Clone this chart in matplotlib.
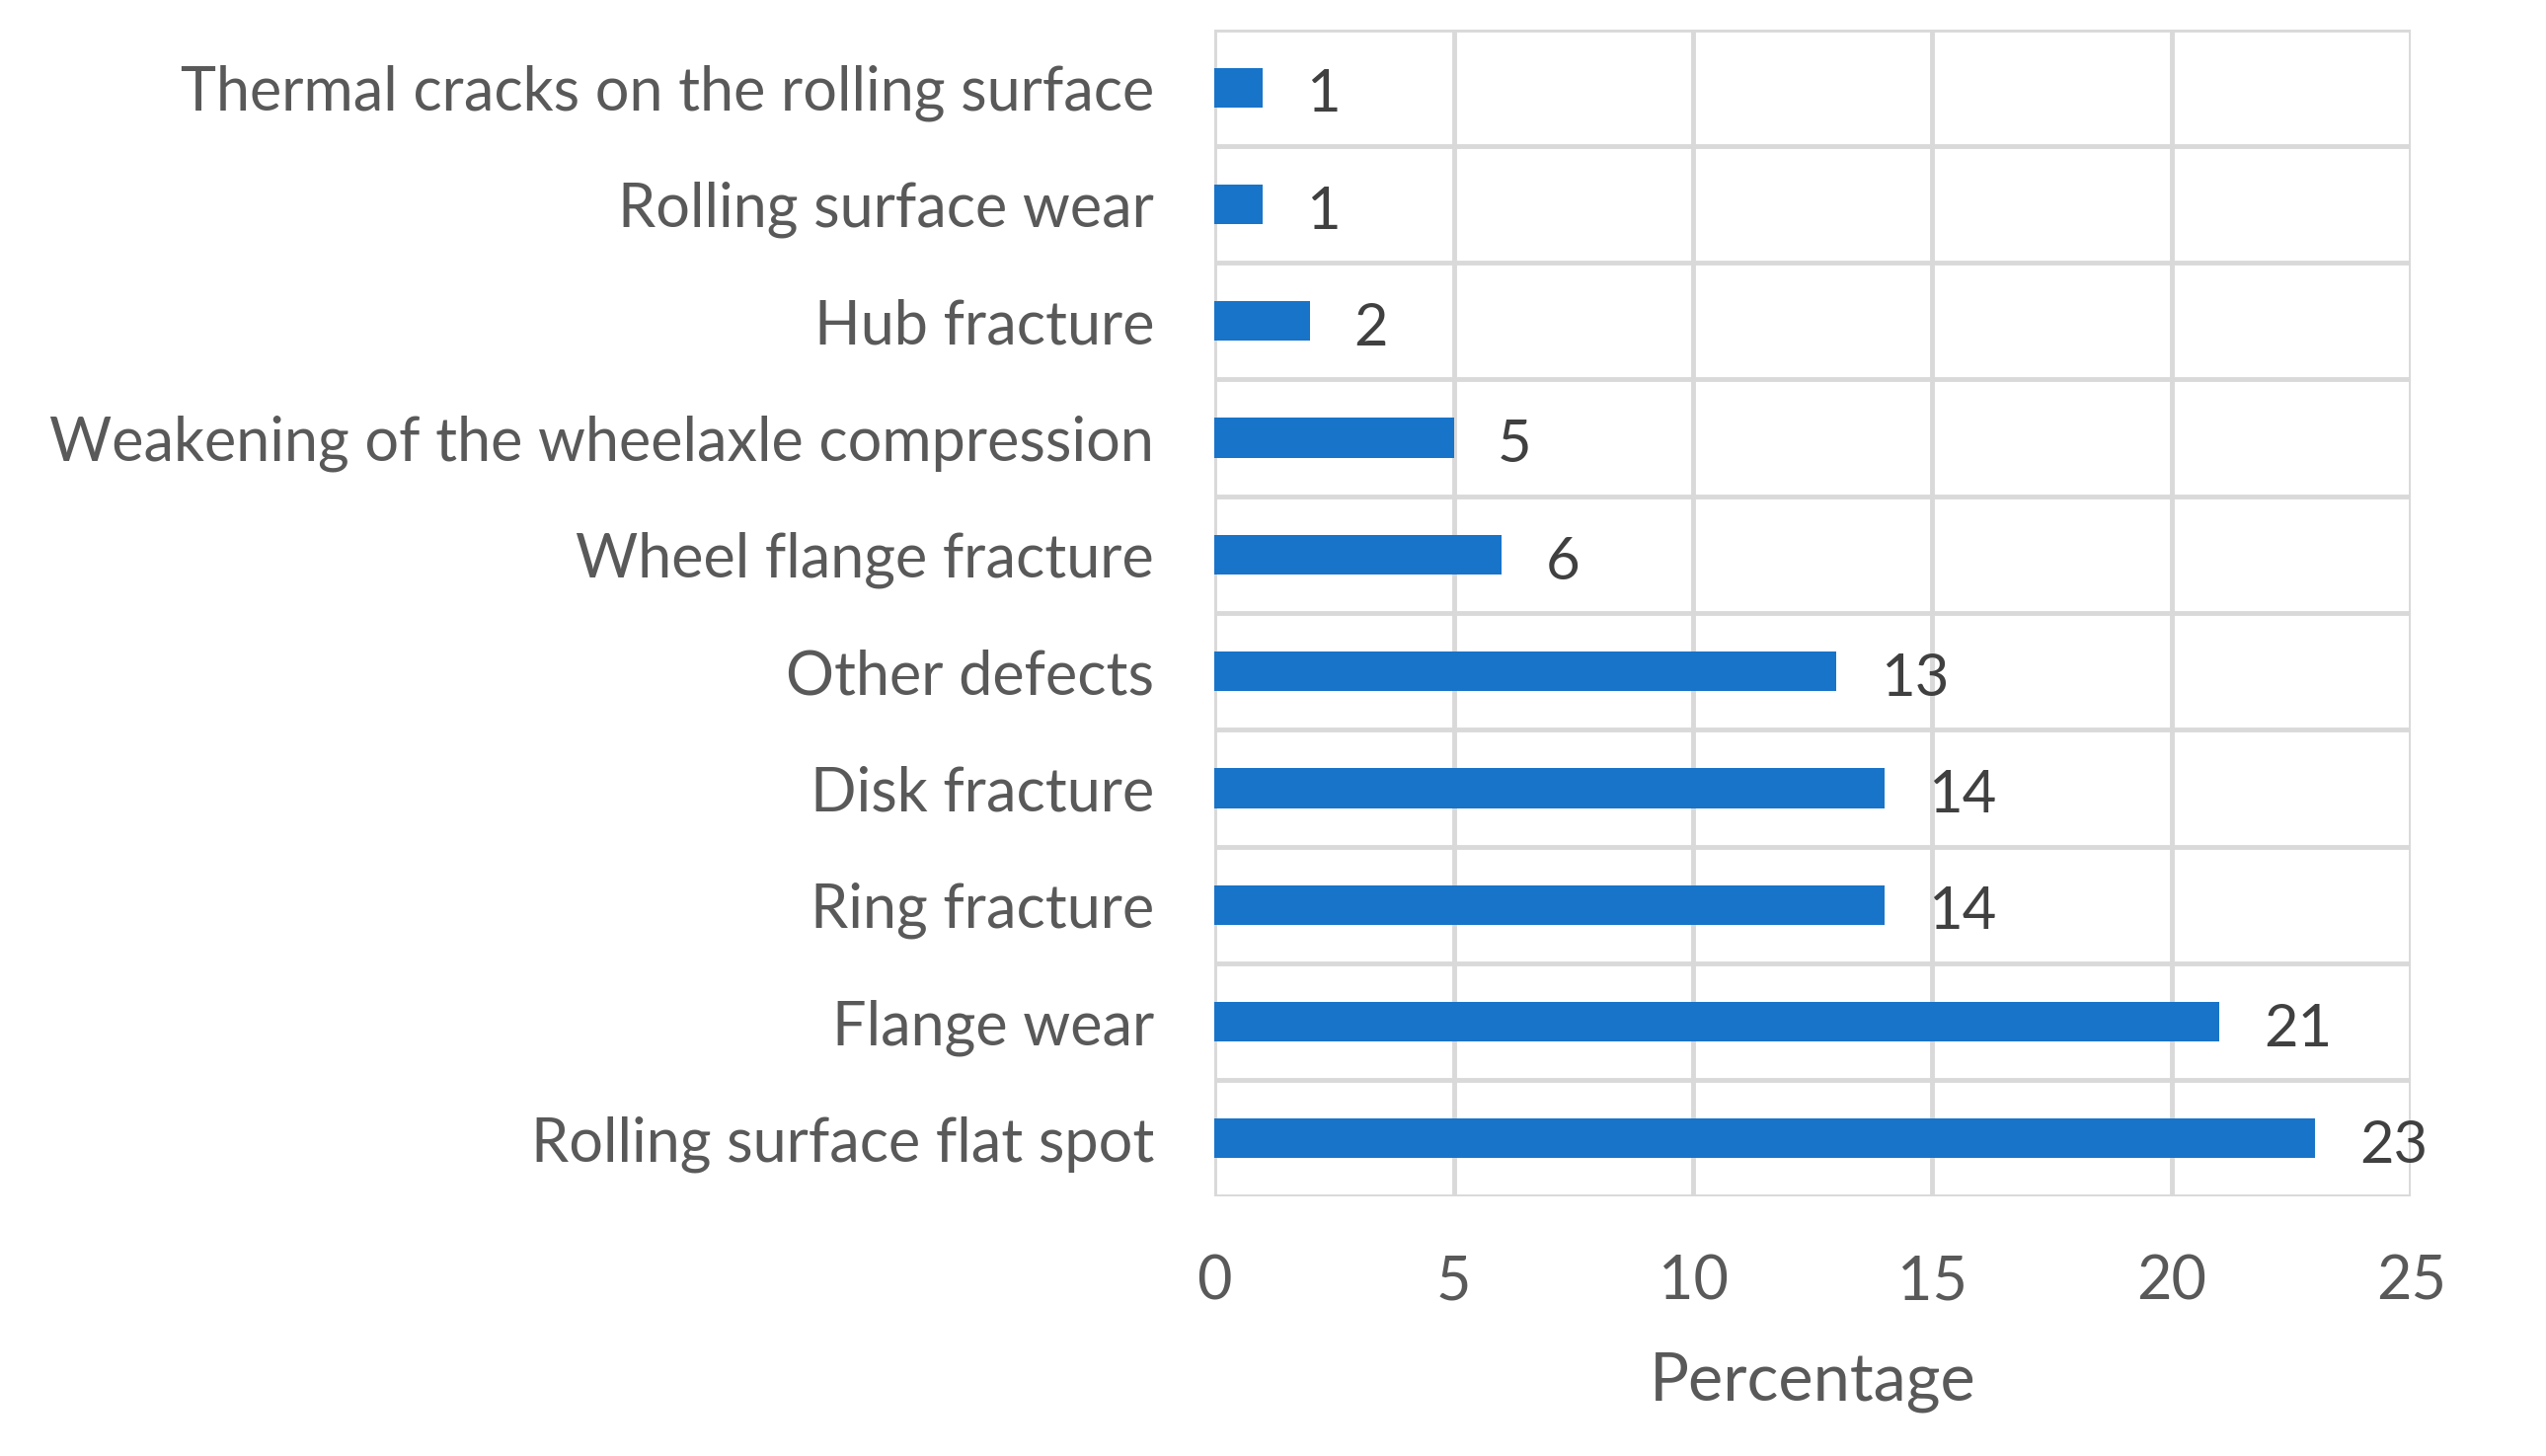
import numpy as np
import matplotlib as mpl
import matplotlib.pyplot as plt

mpl.rcParams['font.family'] = ['Lato', 'DejaVu Sans']

# Données (de haut en bas)
categories = ['Thermal cracks on the rolling surface', 'Rolling surface wear',
              'Hub fracture', 'Weakening of the wheelaxle compression',
              'Wheel flange fracture', 'Other defects', 'Disk fracture',
              'Ring fracture', 'Flange wear', 'Rolling surface flat spot']
values = [1, 1, 2, 5, 6, 13, 14, 14, 21, 23]
xticks = [0, 5, 10, 15, 20, 25]

bar_color = '#1874c9'
grid_color = '#d9d9d9'

fig = plt.figure(figsize=(25.79, 14.75), dpi=100)
ax = fig.add_axes([0.477, 0.178, 0.470, 0.802])

y = np.arange(len(categories))
ax.barh(y, values, height=0.34, color=bar_color, zorder=3)

# étiquettes de valeurs
for yi, v in zip(y, values):
    ax.annotate(str(v), (v, yi), xytext=(32, -2), textcoords='offset points',
                va='center_baseline', ha='left', fontsize=43, color='#404040')

ax.set_xlim(0, 25)
ax.set_ylim(len(categories) - 0.5, -0.5)
ax.set_xticks(xticks)
ax.set_yticks(y)
ax.set_yticklabels(categories)

# grille : lignes verticales aux ticks, horizontales entre catégories
for xv in xticks:
    ax.axvline(xv, color=grid_color, lw=3.5, zorder=1)
for b in np.arange(-0.5, len(categories), 1.0):
    ax.axhline(b, color=grid_color, lw=3.5, zorder=1)

for s in ax.spines.values():
    s.set_visible(False)

ax.tick_params(axis='both', length=0, labelsize=44, labelcolor='#595959')
ax.tick_params(axis='y', pad=44)
ax.tick_params(axis='x', pad=42)
ax.set_xlabel('Percentage', fontsize=48, color='#595959', labelpad=30)

fig.savefig('out.png', dpi=100)
